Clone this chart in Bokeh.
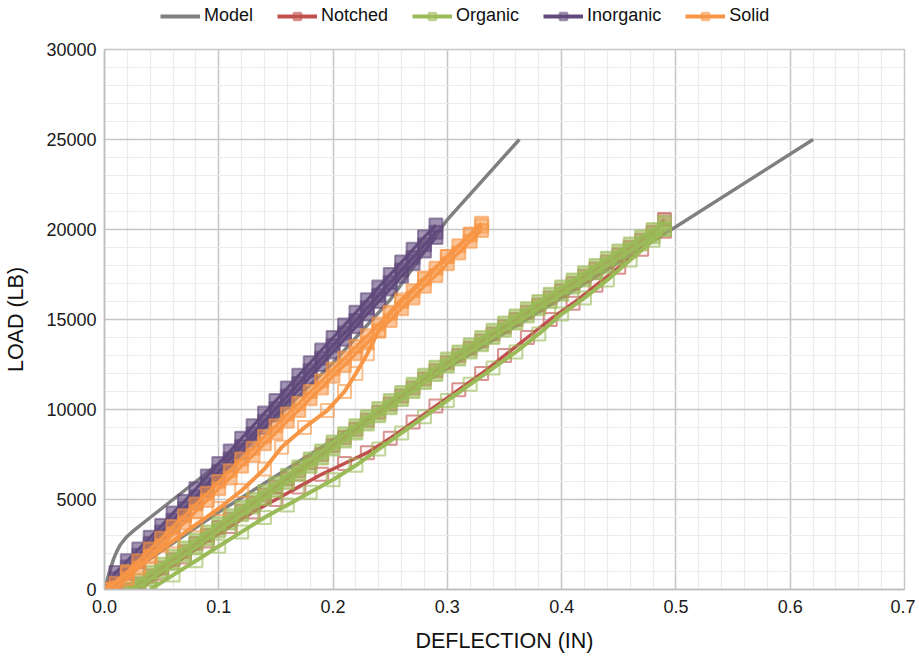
from bokeh.plotting import figure
from bokeh.layouts import column
from bokeh.models import FixedTicker, Legend, LegendItem, NumeralTickFormatter, Range1d
from bokeh.embed import file_html
from bokeh.resources import INLINE

# ---------------- data ----------------
MODEL_A_X = [0.0, 0.002, 0.004, 0.006, 0.008, 0.011, 0.014, 0.019, 0.026, 0.04, 0.055, 0.07, 0.085, 0.1,
             0.15, 0.2, 0.25, 0.3, 0.363]
MODEL_A_Y = [0, 450, 900, 1300, 1700, 2150, 2500, 2900, 3300, 4000, 4750, 5500, 6250, 7000,
             9500, 12600, 16100, 20550, 25000]
MODEL_B_X = [0.0, 0.1, 0.2, 0.3, 0.4, 0.5, 0.62]
MODEL_B_Y = [0, 4300, 8300, 12300, 16200, 20150, 25000]

INORG_X = [0.00, 0.01, 0.02, 0.03, 0.04, 0.05, 0.06, 0.07, 0.08, 0.09, 0.10, 0.11, 0.12, 0.13, 0.14,
           0.15, 0.16, 0.17, 0.18, 0.19, 0.20, 0.21, 0.22, 0.23, 0.24, 0.25, 0.26, 0.27, 0.28, 0.29]
INORG_1 = [0, 600, 1250, 1900, 2550, 3200, 3850, 4500, 5150, 5850, 6550, 7250, 7950, 8650, 9350,
           10050, 10750, 11450, 12150, 12850, 13550, 14250, 14950, 15650, 16350, 17050, 17750, 18450, 19150, 19850]
INORG_2 = [0, 950, 1600, 2250, 2900, 3550, 4250, 4900, 5600, 6300, 7000, 7700, 8400, 9100, 9800,
           10500, 11200, 11900, 12600, 13300, 14000, 14700, 15400, 16100, 16800, 17500, 18200, 18900, 19600, 20250]
INORG_3 = [0, 300, 900, 1550, 2200, 2850, 3500, 4150, 4800, 5500, 6200, 6900, 7600, 8300, 9000,
           9700, 10400, 11100, 11800, 12500, 13200, 13900, 14600, 15300, 16000, 16700, 17400, 18100, 18800, 19550]

SOLID_X = [0.00, 0.01, 0.02, 0.03, 0.04, 0.05, 0.06, 0.07, 0.08, 0.09, 0.10, 0.11, 0.12, 0.13, 0.14, 0.15, 0.16,
           0.17, 0.18, 0.19, 0.20, 0.21, 0.22, 0.23, 0.24, 0.25, 0.26, 0.27, 0.28, 0.29, 0.30, 0.31, 0.32, 0.33]
SOLID_1 = [0, 350, 1000, 1600, 2250, 2850, 3500, 4100, 4750, 5350, 6000, 6600, 7250, 7850, 8500, 9100, 9750,
           10350, 11000, 11600, 12250, 12850, 13500, 14100, 14750, 15350, 16000, 16600, 17250, 17850, 18500, 19100, 19750, 20350]
SOLID_2 = [0, 100, 600, 1200, 1850, 2450, 3100, 3700, 4350, 4950, 5600, 6200, 6850, 7450, 8100, 8700, 9350,
           9950, 10600, 11200, 11850, 12450, 13100, 13700, 14350, 14950, 15600, 16200, 16850, 17450, 18100, 18700, 19350, 19950]
SOLID_3_X = [0.00, 0.02, 0.04, 0.06, 0.08, 0.10, 0.12, 0.14, 0.155, 0.175, 0.195, 0.21, 0.22, 0.23, 0.24, 0.25,
             0.26, 0.28, 0.30, 0.32, 0.33]
SOLID_3 = [0, 900, 1800, 2700, 3600, 4500, 5500, 6700, 7900, 9000, 9950, 11000, 12000, 13100, 14400, 15400,
           16100, 17300, 18500, 19700, 20200]

ORG_X = [0.02, 0.03, 0.04, 0.05, 0.06, 0.07, 0.08, 0.09, 0.10, 0.11, 0.12, 0.13, 0.14, 0.15, 0.16, 0.17,
         0.18, 0.19, 0.20, 0.21, 0.22, 0.23, 0.24, 0.25, 0.26, 0.27, 0.28, 0.29, 0.30, 0.31, 0.32, 0.33,
         0.34, 0.35, 0.36, 0.37, 0.38, 0.39, 0.40, 0.41, 0.42, 0.43, 0.44, 0.45, 0.46, 0.47, 0.48, 0.49]
ORG_1 = [0, 500, 950, 1400, 1850, 2300, 2750, 3200, 3650, 4100, 4550, 5000, 5450, 5900, 6350, 6800,
         7250, 7700, 8200, 8650, 9100, 9600, 10050, 10500, 10950, 11400, 11900, 12350, 12800, 13200, 13600, 14000,
         14400, 14800, 15200, 15600, 16000, 16400, 16800, 17200, 17600, 18000, 18400, 18800, 19200, 19600, 20000, 20400]
ORG_2 = [0, 150, 550, 1000, 1450, 1900, 2350, 2800, 3250, 3700, 4150, 4600, 5050, 5500, 5950, 6400,
         6850, 7300, 7800, 8250, 8700, 9200, 9650, 10100, 10550, 11000, 11500, 11950, 12400, 12800, 13200, 13600,
         14000, 14400, 14800, 15200, 15600, 16000, 16400, 16800, 17200, 17600, 18000, 18400, 18800, 19200, 19600, 20000]
ORG_3_X = [0.04, 0.06, 0.08, 0.10, 0.12, 0.14, 0.16, 0.18, 0.20, 0.22, 0.24, 0.26, 0.28, 0.30, 0.32, 0.34,
           0.36, 0.38, 0.40, 0.42, 0.44, 0.46, 0.48, 0.49]
ORG_3 = [0, 800, 1600, 2400, 3200, 4000, 4700, 5400, 6100, 6900, 7800, 8700, 9600, 10500, 11400, 12300,
         13200, 14200, 15300, 16200, 17200, 18300, 19400, 20000]

NOTCH_1 = [0, 300, 750, 1200, 1650, 2100, 2550, 3000, 3450, 3900, 4350, 4800, 5250, 5700, 6150, 6600,
           7050, 7500, 8000, 8450, 8900, 9400, 9850, 10300, 10750, 11200, 11700, 12150, 12600, 13000, 13400, 13800,
           14200, 14600, 15000, 15400, 15800, 16200, 16600, 17000, 17400, 17800, 18200, 18600, 19000, 19400, 19850, 20550]
NOTCH_2_X = [0.03, 0.05, 0.07, 0.09, 0.11, 0.13, 0.15, 0.17, 0.19, 0.21, 0.23, 0.25, 0.27, 0.29, 0.31, 0.33,
             0.35, 0.37, 0.39, 0.41, 0.43, 0.45, 0.47, 0.49]
NOTCH_2 = [0, 900, 1800, 2700, 3500, 4300, 5000, 5700, 6400, 7000, 7600, 8400, 9300, 10200, 11100, 12000,
           13000, 14000, 15000, 15900, 16900, 17900, 18900, 19900]

X_TICKS = [0.0, 0.1, 0.2, 0.3, 0.4, 0.5, 0.6, 0.7]
Y_TICKS = [0, 5000, 10000, 15000, 20000, 25000, 30000]

C_MODEL = "#808080"
C_NOTCH = "#C0504D"
C_ORG = "#9BBB59"
C_INORG = "#604A7B"
C_SOLID = "#F79646"

FONT = "Liberation Sans"
W = 915

# ---------------- main figure ----------------
p = figure(width=W, height=616, output_backend="svg", toolbar_location=None,
           x_range=Range1d(0, 0.7), y_range=Range1d(0, 30000),
           min_border_left=104, min_border_right=11, min_border_top=10, min_border_bottom=66)
p.background_fill_color = "white"
p.border_fill_color = "white"
p.outline_line_color = "#c6c6c6"
p.outline_line_width = 1.5

x_minor = [round(i * 0.02, 2) for i in range(36)]
y_minor = [i * 1000 for i in range(31)]
p.xaxis.ticker = FixedTicker(ticks=X_TICKS, minor_ticks=x_minor)
p.yaxis.ticker = FixedTicker(ticks=Y_TICKS, minor_ticks=y_minor)
p.xaxis.formatter = NumeralTickFormatter(format="0.0")
p.yaxis.formatter = NumeralTickFormatter(format="0")

for g in (p.xgrid, p.ygrid):
    g.grid_line_color = "#c6c6c6"
    g.grid_line_width = 1.5
    g.minor_grid_line_color = "#ebebeb"
    g.minor_grid_line_width = 1.2

for ax in (p.xaxis, p.yaxis):
    ax.axis_line_color = "#bdbdbd"
    ax.axis_line_width = 1.5
    ax.major_tick_line_color = None
    ax.minor_tick_line_color = None
    ax.major_tick_out = 0
    ax.minor_tick_out = 0
    ax.major_label_text_font = FONT
    ax.major_label_text_font_size = "18px"
    ax.major_label_text_color = "#1a1a1a"
    ax.axis_label_text_font = FONT
    ax.axis_label_text_font_size = "21.5px"
    ax.axis_label_text_font_style = "normal"
    ax.axis_label_text_color = "#111111"

p.xaxis.axis_label = "DEFLECTION (IN)"
p.yaxis.axis_label = "LOAD (LB)"
p.xaxis.major_label_standoff = 10
p.yaxis.major_label_standoff = 8
p.xaxis.axis_label_standoff = 13
p.yaxis.axis_label_standoff = 15

# ---------------- series ----------------
p.line(MODEL_A_X, MODEL_A_Y, line_color=C_MODEL, line_width=3.5)
p.line(MODEL_B_X, MODEL_B_Y, line_color=C_MODEL, line_width=3.5)


def specimen(xs, ys, color, fa, lw=3):
    p.line(xs, ys, line_color=color, line_width=lw)
    p.scatter(xs, ys, marker="square", size=13, fill_color=color, fill_alpha=fa,
              line_color=color, line_alpha=0.6, line_width=2)


specimen(ORG_X, NOTCH_1, C_NOTCH, 0.45)
specimen(NOTCH_2_X, NOTCH_2, C_NOTCH, 0.06, 3.5)
specimen(ORG_X, ORG_1, C_ORG, 0.6)
specimen(ORG_X, ORG_2, C_ORG, 0.6)
specimen(ORG_3_X, ORG_3, C_ORG, 0.06, 4)
specimen(INORG_X, INORG_1, C_INORG, 0.6)
specimen(INORG_X, INORG_2, C_INORG, 0.6)
specimen(INORG_X, INORG_3, C_INORG, 0.6)
specimen(SOLID_X, SOLID_1, C_SOLID, 0.55)
specimen(SOLID_X, SOLID_2, C_SOLID, 0.55)
specimen(SOLID_3_X, SOLID_3, C_SOLID, 0.06, 4)

# ---------------- legend strip ----------------
lg = figure(width=W, height=39, output_backend="svg", toolbar_location=None,
            x_range=Range1d(0, 1), y_range=Range1d(0, 1),
            min_border_left=0, min_border_right=0, min_border_top=0, min_border_bottom=0)
lg.axis.visible = False
lg.grid.visible = False
lg.outline_line_color = None
lg.background_fill_color = "white"
lg.border_fill_color = "white"

# legend-only glyph renderers, parked outside the visible range
OFF = [-5, -4]


def legend_glyphs(color, with_marker=True):
    rs = [lg.line(OFF, OFF, line_color=color, line_width=4)]
    if with_marker:
        rs.append(lg.scatter(OFF, OFF, marker="square", size=14, fill_color=color, fill_alpha=0.25,
                             line_color=color, line_alpha=0.6, line_width=2.5))
    return rs


legend = Legend(items=[
    LegendItem(label="Model", renderers=legend_glyphs(C_MODEL, False)),
    LegendItem(label="Notched", renderers=legend_glyphs(C_NOTCH)),
    LegendItem(label="Organic", renderers=legend_glyphs(C_ORG)),
    LegendItem(label="Inorganic", renderers=legend_glyphs(C_INORG)),
    LegendItem(label="Solid", renderers=legend_glyphs(C_SOLID)),
], orientation="horizontal", location=(56, 13))
legend.glyph_width = 40
legend.glyph_height = 18
legend.label_height = 18
legend.label_standoff = 4
legend.spacing = 24
legend.padding = 0
legend.margin = 0
legend.border_line_color = None
legend.background_fill_alpha = 0
legend.label_text_font = FONT
legend.label_text_font_size = "18px"
legend.label_text_color = "#111111"
lg.add_layout(legend, "center")

layout = column(lg, p, spacing=0)
open("out.html", "w").write(file_html(layout, INLINE))
